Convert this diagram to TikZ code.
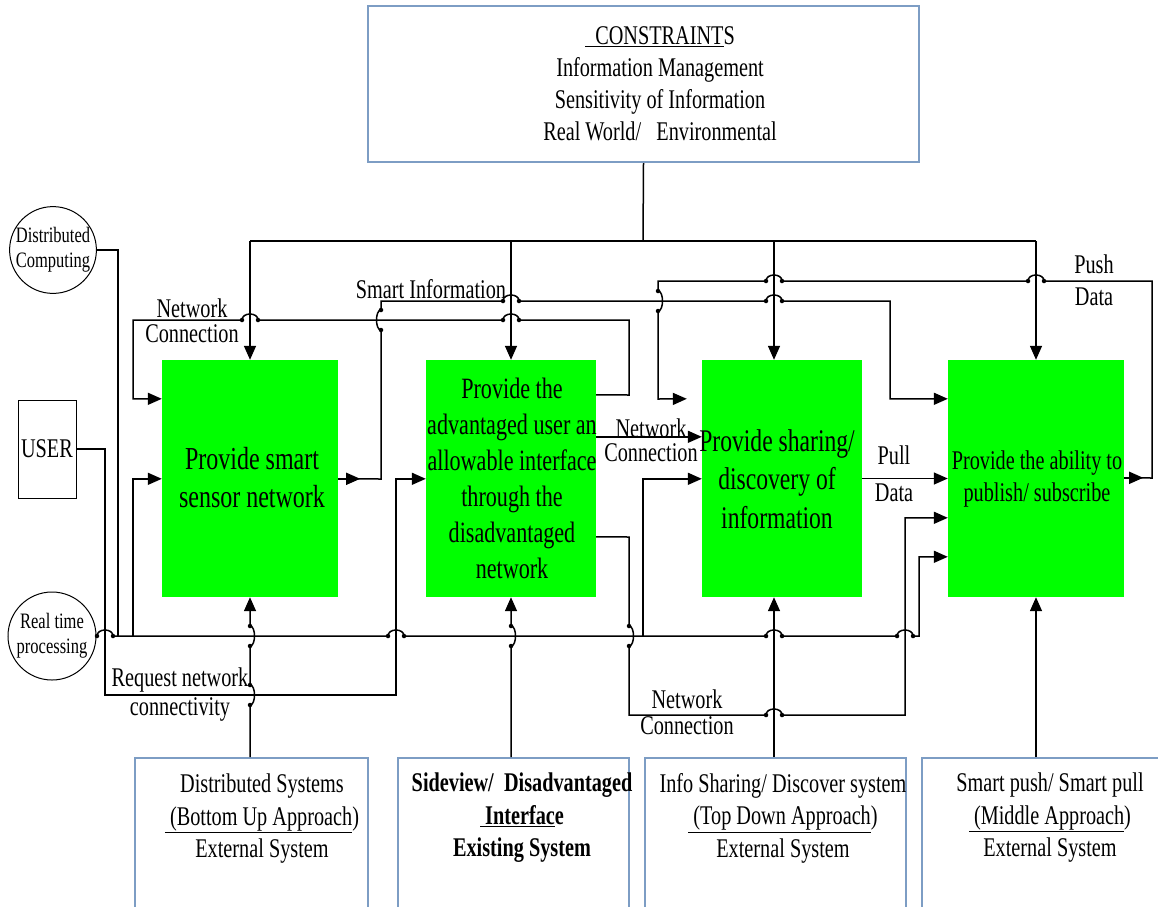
\documentclass[tikz,border=0pt]{standalone}
\usepackage{fontspec}
\setmainfont{Liberation Serif}[FakeStretch=0.75]
\usetikzlibrary{arrows.meta,calc}
\definecolor{boxblue}{RGB}{125,157,196}
\definecolor{grn}{RGB}{0,255,0}
\newcommand\fs[2]{\fontsize{#1}{#2}\selectfont}
% hops: horizontal rightwards / leftwards, vertical upwards / downwards (side +1 right, -1 left)
\newcommand\hopR[2]{-- ({#1-8},#2) node[hd]{} .. controls ({#1-8},{#2-8}) and ({#1+8},{#2-8}) .. ({#1+8},#2) node[hd]{}}
\newcommand\hopL[2]{-- ({#1+8},#2) node[hd]{} .. controls ({#1+8},{#2-8}) and ({#1-8},{#2-8}) .. ({#1-8},#2) node[hd]{}}
\newcommand\hopU[3]{-- (#1,{#2+10}) node[hd]{} .. controls ({#1+(#3)*6},{#2+10}) and ({#1+(#3)*6},{#2-10}) .. (#1,{#2-10}) node[hd]{}}
\newcommand\hopD[3]{-- (#1,{#2-10}) node[hd]{} .. controls ({#1+(#3)*6},{#2-10}) and ({#1+(#3)*6},{#2+10}) .. (#1,{#2+10}) node[hd]{}}
\begin{document}
\begin{tikzpicture}[x=1pt,y=-1pt,
  conn/.style={line width=1.5pt,line join=miter},
  arr/.style={conn,-{Triangle[length=14pt,width=12pt]}},
  hd/.style={circle,fill=black,inner sep=0pt,minimum size=4.5pt},
  gbox/.style={fill=grn,draw=none,minimum width=176,minimum height=237,inner sep=0pt},
  gt/.style={align=center,inner sep=0pt},
  lab/.style={align=center,inner sep=0pt,font=\fs{27}{25}},
  consbox/.style={draw=boxblue,line width=2pt,minimum width=551,minimum height=156,inner sep=0pt},
  extbox/.style={draw=boxblue,line width=2pt,anchor=north west,minimum height=190,inner sep=0pt},
  bt/.style={align=center,inner sep=0pt,font=\fs{27}{32.5}},
  ring/.style={circle,draw,line width=1pt,inner sep=0pt,align=center,font=\fs{22}{25}}
]
\useasboundingbox (0,0) rectangle (1158,906);
\clip (0,0) rectangle (1158,906);
\fill[white] (0,0) rectangle (1158,906);

% boxes
\node[consbox] (cons) at (643.5,84) {};
\node[align=center,inner sep=0pt,font=\fs{27}{32}] (consT) at (660,84)
  {\underline{\ \ CONSTRAINT}S\\Information Management\\Sensitivity of Information\\Real World/\ \ \ Environmental};

\node[gbox] (g1) at (250,478.5) {};
\node[gbox,minimum width=170] (g2) at (511,478.5) {};
\node[gbox,minimum width=160] (g3) at (782,478.5) {};
\node[gbox] (g4) at (1036,478.5) {};

\node[gt,font=\fs{32}{38}] (g1t) at (252,478) {Provide smart\\sensor network};
\node[gt,font=\fs{29.5}{36}] (g2t) at (512,478) {Provide the\\advantaged user an\\allowable interface\\through the\\disadvantaged\\network};
\node[gt,font=\fs{31.5}{38.5}] (g3t) at (777,479) {Provide sharing/\\discovery of\\information};
\node[gt,font=\fs{27}{32}] (g4t) at (1037,479) {Provide the ability to\\publish/ subscribe};

\node[ring,minimum size=86] (dc) at (53,250) {Distributed\\Computing};
\node[ring,minimum size=88] (rt) at (52,636) {Real time\\processing};
\node[draw,line width=1pt,minimum width=58,minimum height=98,inner sep=0pt,font=\fs{27}{30}] (user) at (47,449) {USER};

\node[extbox,minimum width=233] (b1) at (134,757) {};
\node[extbox,minimum width=231] (b2) at (397,757) {};
\node[extbox,minimum width=261] (b3) at (644,757) {};
\node[extbox,minimum width=260] (b4) at (921,757) {};

\node[bt] (b1t) at (262,819) {Distributed Systems\\\underline{\ (Bottom Up Approach})\\External System};
\node[bt,font=\fs{27}{32.5}\bfseries] (b2t) at (522,818) {Sideview/\ \ Disadvantaged\\\underline{\ Interfac}e\\Existing System};
\node[bt] (b3t) at (783,818) {Info Sharing/ Discover system\\\underline{\ (Top Down Approach})\\External System};
\node[bt] (b4t) at (1050,818) {Smart push/ Smart pull\\\underline{\ (Middle Approach})\\External System};

% labels
\node[lab] (lnc1) at (192,321) {Network\\Connection};
\node[lab] (lsi) at (431,289) {Smart Information};
\node[lab,font=\fs{27}{24}] (lnc2) at (651,440) {Network\\Connection};
\node[lab,font=\fs{27}{37}] (lpull) at (894,474) {Pull\\Data};
\node[lab,font=\fs{27}{32}] (lpush) at (1094,280) {Push\\Data};
\node[lab,font=\fs{27}{29}] (lreq) at (180,695) {Request network\\connectivity};
\node[lab,font=\fs{27}{26}] (lnc3) at (687,712) {Network\\Connection};

% coordinates
\coordinate (bus) at (643,241);
\coordinate (d3) at ($(g3.north)+(-8,0)$);
\coordinate (d3b) at ($(g3.south)+(-8,0)$);
\coordinate (j1) at (133,636);
\coordinate (j2) at (643,636);

% constraints distribution
\draw[conn] (cons.south) -- (bus);
\draw[conn] (g1.north |- bus) -- (g4.north |- bus);
\draw[arr] (g1.north |- bus) -- (g1.north);
\draw[arr] (g2.north |- bus) -- (g2.north);
\draw[arr] (d3 |- bus) -- (d3);
\draw[arr] (g4.north |- bus) -- (g4.north);

% user -> box 2
\draw[arr] (user.east) -| (105,695) -- (396,695) |- ($(g2.north west)+(0,119)$);
% distributed computing -> bus
\draw[conn] (dc.east) -| (118,636);
% real time bus -> box 4
\draw[arr] (rt.east) -- (96,636) \hopR{105}{636} \hopR{396}{636} \hopR{774}{636} \hopR{905}{636} -- (919,636) |- ($(g4.north west)+(0,197)$);
\draw[arr] (j1) |- ($(g1.north west)+(0,119)$);
\draw[arr] (j2) |- ($(g3.north west)+(0,119)$);

% network connection loop box2 -> box1
\draw[arr] ($(g2.north east)+(0,35)$) -- (629,395) -- (629,320) \hopL{511}{320} \hopL{250}{320} -- (133,320) |- ($(g1.north west)+(0,39)$);

% smart information box1 -> box4
\draw[arr] ($(g1.north east)+(0,119)$) -- (381,479) \hopU{381}{320}{-1} -- (381,301) \hopR{511}{301} \hopR{774}{301} -- (890,301) |- ($(g4.north west)+(0,39)$);
\draw[arr] ($(g1.north east)+(0,119)$) -- ++(22,0);

% push data box4 -> box3
\draw[arr] ($(g4.north east)+(0,118)$) -- (1152,478) -- (1152,281) \hopL{1036}{281} \hopL{774}{281} -- (658,281) \hopD{658}{301}{1} -- (658,399) -- ($(g3.north west)+(-15,39)$);
\draw[arr] ($(g4.north east)+(0,118)$) -- ++(19,0);

% network connection box2 -> box3
\draw[arr] ($(g2.north east)+(0,77)$) -- ($(g3.north west)+(0,77)$);
% pull data
\draw[arr] (g3.east) -- (g4.west);
% network connection box2 -> box4
\draw[arr] ($(g2.north east)+(0,177)$) -- (629,537) \hopD{629}{636}{1} -- (629,715) \hopR{774}{715} -- (905,715) |- ($(g4.north west)+(0,158)$);

% external systems
\draw[arr] (g1.south |- b1.north) \hopU{250}{695}{1} \hopU{250}{636}{1} -- (g1.south);
\draw[arr] (g2.south |- b2.north) \hopU{511}{636}{1} -- (g2.south);
\draw[arr] (d3b |- b3.north) -- (d3b);
\draw[arr] (g4.south |- b4.north) -- (g4.south);
\end{tikzpicture}
\end{document}
